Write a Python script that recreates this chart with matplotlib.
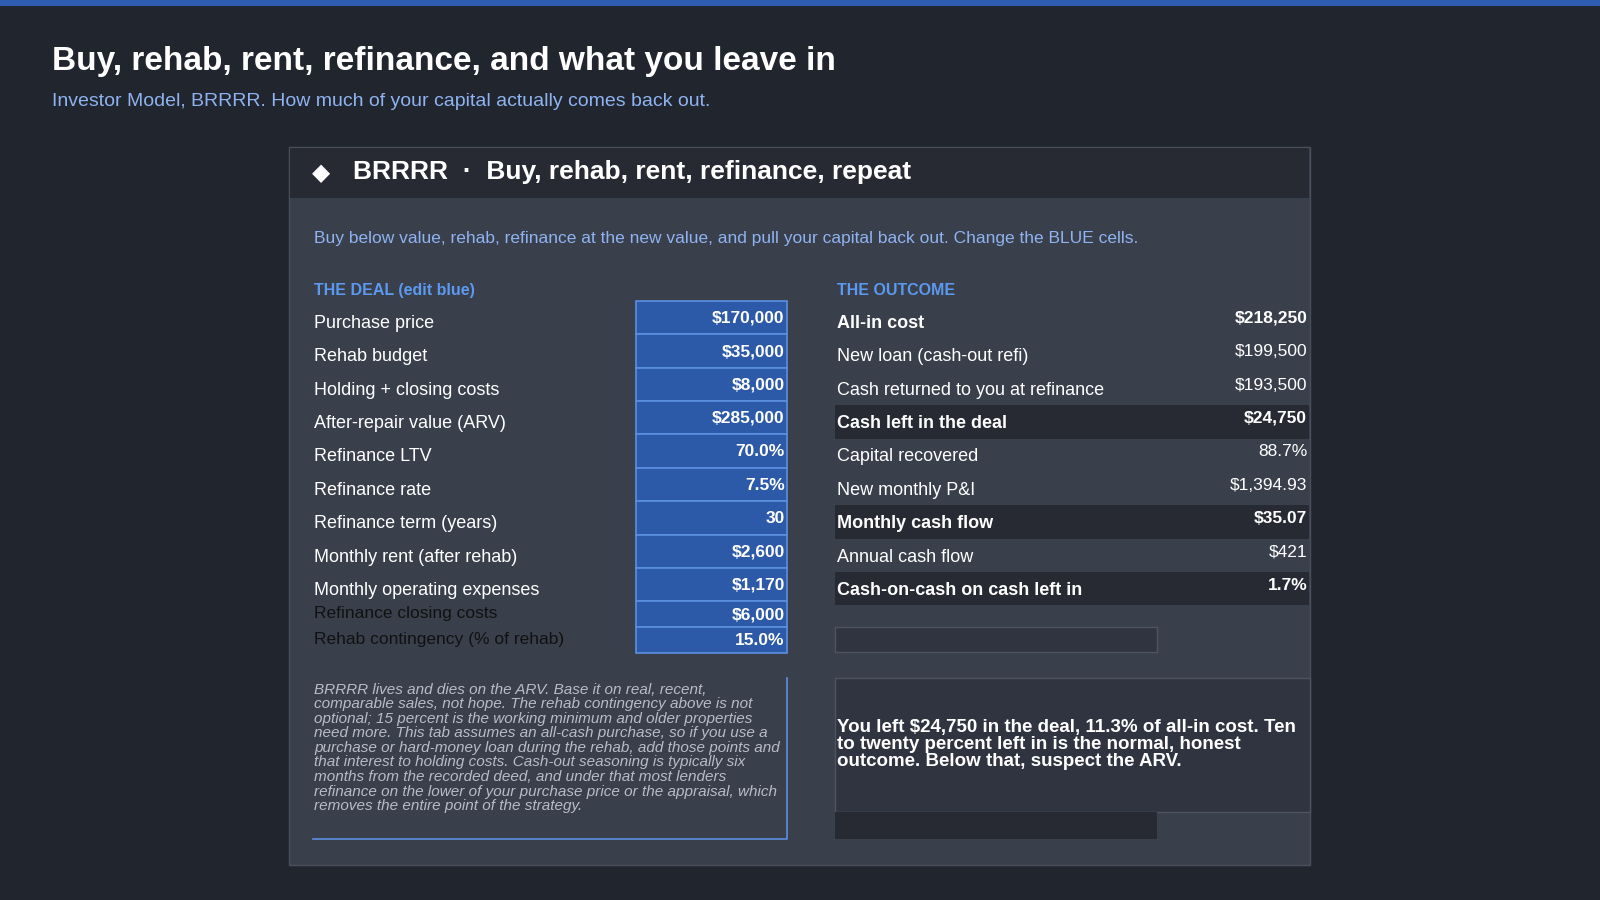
import matplotlib.pyplot as plt
from matplotlib.patches import Rectangle

plt.rcParams['font.family'] = ['Liberation Sans', 'DejaVu Sans']

# Data
deal_labels = ["Purchase price", "Rehab budget", "Holding + closing costs",
               "After-repair value (ARV)", "Refinance LTV", "Refinance rate",
               "Refinance term (years)", "Monthly rent (after rehab)",
               "Monthly operating expenses", "Refinance closing costs",
               "Rehab contingency (% of rehab)"]
deal_values = ["$170,000", "$35,000", "$8,000", "$285,000", "70.0%", "7.5%",
               "30", "$2,600", "$1,170", "$6,000", "15.0%"]
out_labels = ["All-in cost", "New loan (cash-out refi)", "Cash returned to you at refinance",
              "Cash left in the deal", "Capital recovered", "New monthly P&I",
              "Monthly cash flow", "Annual cash flow", "Cash-on-cash on cash left in"]
out_values = ["$218,250", "$199,500", "$193,500", "$24,750", "88.7%", "$1,394.93",
              "$35.07", "$421", "1.7%"]
out_bold = [True, False, False, True, False, False, True, False, True]
out_band = [False, False, False, True, False, False, True, False, True]

BG = "#21252e"
PANEL = "#3a3f4c"
DARK = "#272a33"
CELL = "#2d5aa8"
CELLEDGE = "#5b8fe0"
W, H = 1568, 882

fig = plt.figure(figsize=(16, 9), dpi=100, facecolor=BG)
ax = fig.add_axes([0, 0, 1, 1])
ax.set_xlim(0, W)
ax.set_ylim(H, 0)
ax.axis("off")

def rect(x, y, w, h, fc, ec="none", lw=0):
    ax.add_patch(Rectangle((x, y), w, h, facecolor=fc, edgecolor=ec, linewidth=lw))

rect(0, 0, W, 6, "#2f5bb0")
ax.text(51, 60, "Buy, rehab, rent, refinance, and what you leave in", color="white",
        fontsize=24, fontweight="bold", va="center")
ax.text(51, 99, "Investor Model, BRRRR. How much of your capital actually comes back out.",
        color="#8fb3f0", fontsize=14, va="center")

# panel
rect(283, 144, 1001, 704, PANEL, "#4a4f5c", 1)
rect(284, 145, 999, 49, DARK)
ax.text(315, 170, "\u25C6", color="white", fontsize=17, va="center", ha="center",
        family=['DejaVu Sans'])
ax.text(346, 169, "BRRRR  \u00B7  Buy, rehab, rent, refinance, repeat", color="white",
        fontsize=19, fontweight="bold", va="center")
ax.text(308, 234, "Buy below value, rehab, refinance at the new value, and pull your capital back out. "
        "Change the BLUE cells.", color="#8fb3f0", fontsize=12.5, va="center")

ax.text(308, 285, "THE DEAL (edit blue)", color="#5b9af0", fontsize=11.5, fontweight="bold", va="center")
ax.text(820, 285, "THE OUTCOME", color="#5b9af0", fontsize=11.5, fontweight="bold", va="center")

# deal rows
row_h = 32.7
y0 = 295
for i, (lab, val) in enumerate(zip(deal_labels, deal_values)):
    if i < 9:
        top = y0 + i * row_h
        h = row_h
        ly = top + 22
        col = "white"
        fs = 13
    else:
        top = y0 + 9 * row_h + (i - 9) * 25.5
        h = 25.5
        ly = top + 12
        col = "#111111"
        fs = 12.5
    rect(623, top, 148, h, CELL, CELLEDGE, 1.2)
    ax.text(769, top + 17 if i < 9 else top + 13, val, color="white", fontsize=12.5,
            fontweight="bold", ha="right", va="center")
    ax.text(308, ly, lab, color=col, fontsize=fs, va="center")

# outcome rows
for i, (lab, val) in enumerate(zip(out_labels, out_values)):
    top = y0 + i * row_h
    if out_band[i]:
        rect(818, top + 4, 465, row_h, DARK)
    w = "bold" if out_bold[i] else "normal"
    ax.text(820, top + 22, lab, color="white", fontsize=13, fontweight=w, va="center")
    ax.text(1281, top + 17, val, color="white", fontsize=12.5, fontweight=w,
            ha="right", va="center")

# empty boxes
rect(818, 614, 316, 25, "#303440", "#4e5360", 1)
rect(818, 664, 466, 132, "#303440", "#4e5360", 1)
rect(818, 796, 316, 26, DARK)
ax.text(820, 730, "You left $24,750 in the deal, 11.3% of all-in cost. Ten\n"
        "to twenty percent left in is the normal, honest\noutcome. Below that, suspect the ARV.",
        color="white", fontsize=13.5, fontweight="bold", va="center", linespacing=1.0)

# note
ax.plot([771, 771, 307], [664, 822, 822], color=CELLEDGE, lw=1.2)
note = ("BRRRR lives and dies on the ARV. Base it on real, recent,\n"
        "comparable sales, not hope. The rehab contingency above is not\n"
        "optional; 15 percent is the working minimum and older properties\n"
        "need more. This tab assumes an all-cash purchase, so if you use a\n"
        "purchase or hard-money loan during the rehab, add those points and\n"
        "that interest to holding costs. Cash-out seasoning is typically six\n"
        "months from the recorded deed, and under that most lenders\n"
        "refinance on the lower of your purchase price or the appraisal, which\n"
        "removes the entire point of the strategy.")
ax.text(308, 669, note, color="#b8bcc6", fontsize=11, style="italic", va="top", linespacing=1.05)

fig.savefig("out.png", dpi=100, facecolor=BG)
